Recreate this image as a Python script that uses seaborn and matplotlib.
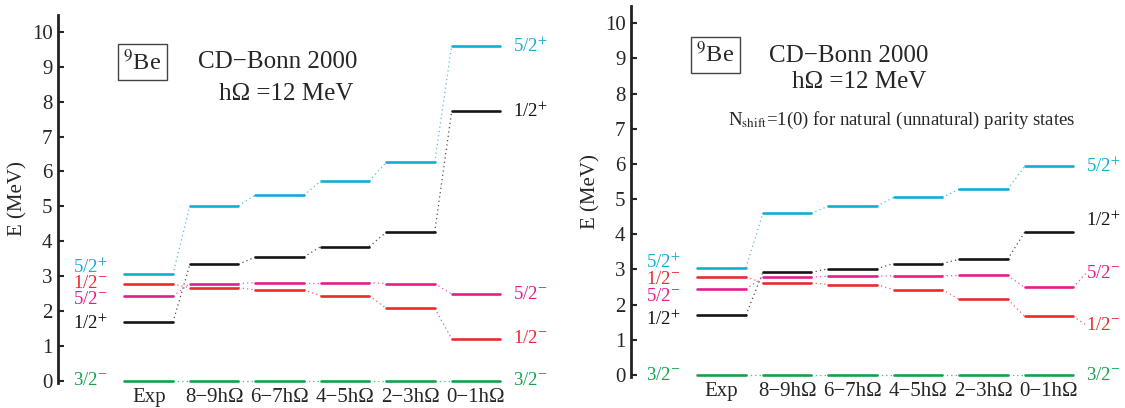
import seaborn as sns
import pandas as pd
import matplotlib.pyplot as plt

sns.set_style("white")
plt.rcParams['font.family'] = ['Liberation Serif', 'DejaVu Serif']
plt.rcParams['mathtext.fontset'] = 'stix'

columns = ["Exp", "8−9hΩ", "6−7hΩ", "4−5hΩ", "2−3hΩ", "0−1hΩ"]
states = ["3/2-", "5/2+", "1/2+", "5/2-", "1/2-"]
state_labels = {"3/2-": r"3/2$^{-}$", "5/2+": r"5/2$^{+}$", "1/2+": r"1/2$^{+}$",
                "5/2-": r"5/2$^{-}$", "1/2-": r"1/2$^{-}$"}
colors = {"3/2-": "#14a04e", "5/2+": "#12aed0", "1/2+": "#151515",
          "5/2-": "#e41c8c", "1/2-": "#ea2a2e"}

# left panel (N_shift = 0)
left_32m = [0, 0, 0, 0, 0, 0]
left_52p = [3.05, 5.02, 5.32, 5.73, 6.26, 9.60]
left_12p = [1.68, 3.34, 3.55, 3.85, 4.26, 7.73]
left_52m = [2.43, 2.79, 2.82, 2.82, 2.79, 2.49]
left_12m = [2.78, 2.67, 2.61, 2.44, 2.08, 1.21]

# right panel (N_shift = 1(0))
right_32m = [0, 0, 0, 0, 0, 0]
right_52p = [3.05, 4.60, 4.80, 5.05, 5.28, 5.93]
right_12p = [1.70, 2.92, 3.02, 3.17, 3.29, 4.06]
right_52m = [2.44, 2.78, 2.81, 2.82, 2.83, 2.49]
right_12m = [2.79, 2.62, 2.57, 2.43, 2.15, 1.67]

left_levels = dict(zip(states, [left_32m, left_52p, left_12p, left_52m, left_12m]))
right_levels = dict(zip(states, [right_32m, right_52p, right_12p, right_52m, right_12m]))

# label placement (y of text) on the left and right side of each panel
left_lab_l = {"5/2+": 3.27, "1/2-": 2.8, "5/2-": 2.32, "1/2+": 1.66, "3/2-": 0.0}
left_lab_r = {"5/2+": 9.6, "1/2+": 7.73, "5/2-": 2.49, "1/2-": 1.21, "3/2-": 0.0}
right_lab_l = {"5/2+": 3.2, "1/2-": 2.72, "5/2-": 2.24, "1/2+": 1.58, "3/2-": 0.0}
right_lab_r = {"5/2+": 5.93, "1/2+": 4.4, "5/2-": 2.9, "1/2-": 1.42, "3/2-": 0.0}
right_leaders = ["5/2-", "1/2-"]

hw = 0.37


def draw_panel(ax, levels, lab_l, lab_r, leaders=()):
    rows = []
    for s, vals in levels.items():
        for i, e in enumerate(vals):
            rows.append({"x": i - hw, "E": e, "state": s, "seg": f"{s}_{i}"})
            rows.append({"x": i + hw, "E": e, "state": s, "seg": f"{s}_{i}"})
    df = pd.DataFrame(rows)
    sns.lineplot(data=df, x="x", y="E", hue="state", units="seg", estimator=None,
                 sort=False, palette=colors, linewidth=1.9, legend=False, ax=ax)
    for s, vals in levels.items():
        for i in range(len(vals) - 1):
            ax.plot([i + hw, i + 1 - hw], [vals[i], vals[i + 1]],
                    dashes=(1, 2.5), lw=0.9, color=colors[s], alpha=0.75)
        ax.text(-hw - 0.26, lab_l[s], state_labels[s], color=colors[s],
                fontsize=13.5, ha="right", va="center")
        last = len(vals) - 1
        ax.text(last + hw + 0.2, lab_r[s], state_labels[s], color=colors[s],
                fontsize=13.5, ha="left", va="center", clip_on=False)
        if s in leaders:
            ax.plot([last + hw, last + hw + 0.2], [vals[-1], lab_r[s]],
                    dashes=(1, 2.5), lw=0.9, color=colors[s], alpha=0.75,
                    clip_on=False)

    ax.set_xlim(-1.385, 5.95)
    ax.set_ylim(-0.05, 10.48)
    ax.set_yticks(range(0, 11))
    ax.set_xticks(range(len(columns)))
    ax.set_xticklabels(columns)
    ax.set_xlabel("")
    ax.set_ylabel("E (MeV)", fontsize=15, labelpad=3)
    ax.tick_params(axis="y", direction="in", length=4, width=1.5, labelsize=15,
                   left=True, pad=4)
    ax.tick_params(axis="x", length=0, labelsize=15, pad=4)
    for side in ["top", "right", "bottom"]:
        ax.spines[side].set_visible(False)
    ax.spines["left"].set_linewidth(2)
    ax.spines["left"].set_color("#222222")


fig = plt.figure(figsize=(11.25, 4.08), dpi=100)
ax1 = fig.add_axes([0.0516, 0.062, 0.4267, 0.901])
ax2 = fig.add_axes([0.5609, 0.0765, 0.4267, 0.908])

draw_panel(ax1, left_levels, left_lab_l, left_lab_r)
draw_panel(ax2, right_levels, right_lab_l, right_lab_r, right_leaders)

box = dict(boxstyle="square,pad=0.22", fc="white", ec="#444444", lw=1)
ax1.text(-0.1, 9.13, r"$^{9}$Be", fontsize=17.5, ha="center", va="center", bbox=box)
ax1.text(0.75, 9.13, "CD−Bonn 2000", fontsize=18, ha="left", va="center")
ax1.text(1.08, 8.22, "hΩ =12 MeV", fontsize=18, ha="left", va="center")

ax2.text(-0.1, 9.1, r"$^{9}$Be", fontsize=17.5, ha="center", va="center", bbox=box)
ax2.text(0.73, 9.06, "CD−Bonn 2000", fontsize=18, ha="left", va="center")
ax2.text(1.08, 8.32, "hΩ =12 MeV", fontsize=18, ha="left", va="center")
ax2.text(0.09, 7.25, r"N$_{\mathrm{shift}}$=1(0) for natural (unnatural) parity states",
         fontsize=13.5, ha="left", va="center")

fig.savefig("out.png", dpi=100)
